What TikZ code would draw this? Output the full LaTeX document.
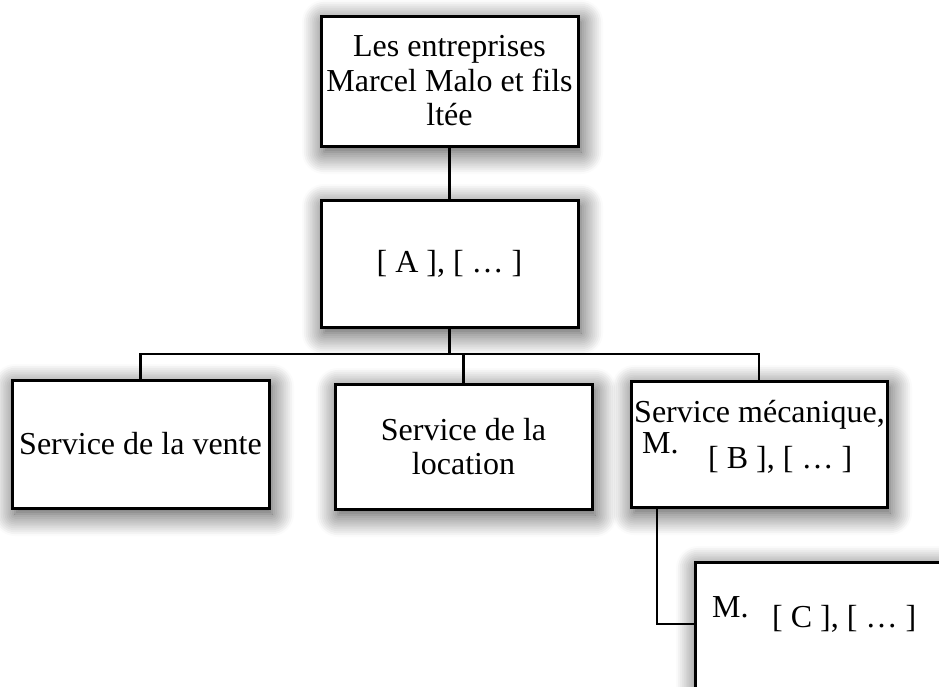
\documentclass[tikz,border=0pt]{standalone}
\usepackage{fontspec}
\setmainfont{Liberation Serif}
\usetikzlibrary{shadows.blur}
\begin{document}
\begin{tikzpicture}[x=1pt,y=-1pt,
  box/.style={draw=black, line width=3pt, fill=white, rectangle, inner sep=0pt,
    blur shadow={shadow xshift=3pt, shadow yshift=-6pt, shadow blur radius=22pt, shadow blur steps=12, shadow opacity=75}},
  txt/.style={font=\fontsize{32}{34.5}\selectfont, align=center, inner sep=0pt},
  link/.style={line width=2.6pt, draw=black}]
\useasboundingbox (0,0) rectangle (939,686);
\clip (0,0) rectangle (939,686);
% boxes
\node[box, txt, minimum width=257pt, minimum height=130pt] (top) at (449.5,81)
  {Les entreprises\\Marcel Malo et fils\\ltée};
\node[box, txt, minimum width=257pt, minimum height=127pt] (mid) at (449.5,263.5)
  {[ A ], [ … ]};
\node[box, txt, minimum width=257pt, minimum height=128pt] (vente) at (140.5,444)
  {Service de la vente};
\node[box, txt, minimum width=257pt, minimum height=125pt] (loc) at (463.5,446.5)
  {Service de la\\location};
\node[box, minimum width=256pt, minimum height=126pt] (meca) at (759,444) {};
\node[box, minimum width=280pt, minimum height=180pt] (cbox) at (835,652) {};
% texts in the right-hand boxes
\node[txt, anchor=base west] (mecat) at (634,422) {Service mécanique,};
\node[txt, anchor=base west] (mecam) at (642,453) {M.};
\node[txt, anchor=base west] (mecab) at (708,468) {[ B ], [ … ]};
\node[txt, anchor=base west] (cm) at (712,617) {M.};
\node[txt, anchor=base west] (cc) at (772,627) {[ C ], [ … ]};
% connectors
\coordinate (bus) at (449.5,354);
\coordinate (cj) at (657,624);
\draw[link] (top) -- (mid);
\draw[link] (mid.south) -- (bus);
\draw[link] (vente.north) -- (vente.north |- bus) -- (meca.north |- bus) -- (meca.north);
\draw[link] (loc.north) -- (loc.north |- bus);
\draw[link] (meca.south -| cj) -- (cj) -- (cj -| cbox.west);
\end{tikzpicture}
\end{document}
